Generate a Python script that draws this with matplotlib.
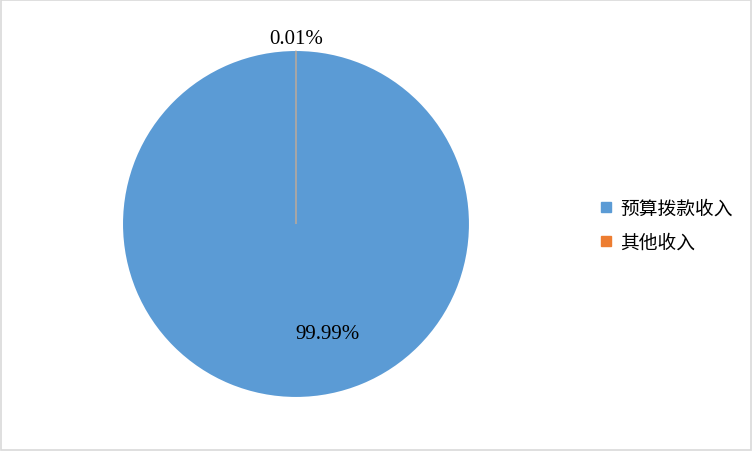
import matplotlib
matplotlib.use("Agg")
import matplotlib.pyplot as plt
from matplotlib.lines import Line2D
import numpy as np

categories = ["预算拨款收入", "其他收入"]
values = [99.99, 0.01]
colors = ["#5B9BD5", "#ED7D31"]

fig = plt.figure(figsize=(7.52, 4.52), dpi=100)
fig.patch.set_facecolor("white")
# border
fig.add_artist(plt.Rectangle((0.0015, 0.002), 0.997, 0.995, transform=fig.transFigure,
                             fill=False, edgecolor="#D9D9D9", linewidth=1.2))

ax = fig.add_axes([0.1636, 0.1195, 0.46, 0.7655])
wedges, _ = ax.pie(values, colors=colors, startangle=90, counterclock=False,
                   wedgeprops=dict(linewidth=0))
wedges[1].set_edgecolor("#A6A6A6")
wedges[1].set_linewidth(1.0)
ax.set_xlim(-1, 1)
ax.set_ylim(-1, 1)
ax.set_aspect("equal")
ax.axis("off")

labels = [f"{v:.2f}%" for v in values]
label_pos = [(0.18, -0.635), (0.0, 1.07)]
for (x, y), t in zip(label_pos, labels):
    ax.text(x, y, t, ha="center", va="center", fontsize=15,
            family=["Liberation Serif", "DejaVu Serif"], color="#000000")

handles = [Line2D([], [], marker="s", linestyle="none", markersize=7,
                  markerfacecolor=c, markeredgecolor=c) for c in colors]
fig.legend(handles, categories, loc="center left", bbox_to_anchor=(0.773, 0.5),
           frameon=False, handlelength=0.8, handletextpad=0.4, labelspacing=0.72,
           prop={"family": ["Noto Sans CJK SC", "DejaVu Sans"], "size": 13.5})

fig.savefig("out.png", dpi=100, facecolor="white")
